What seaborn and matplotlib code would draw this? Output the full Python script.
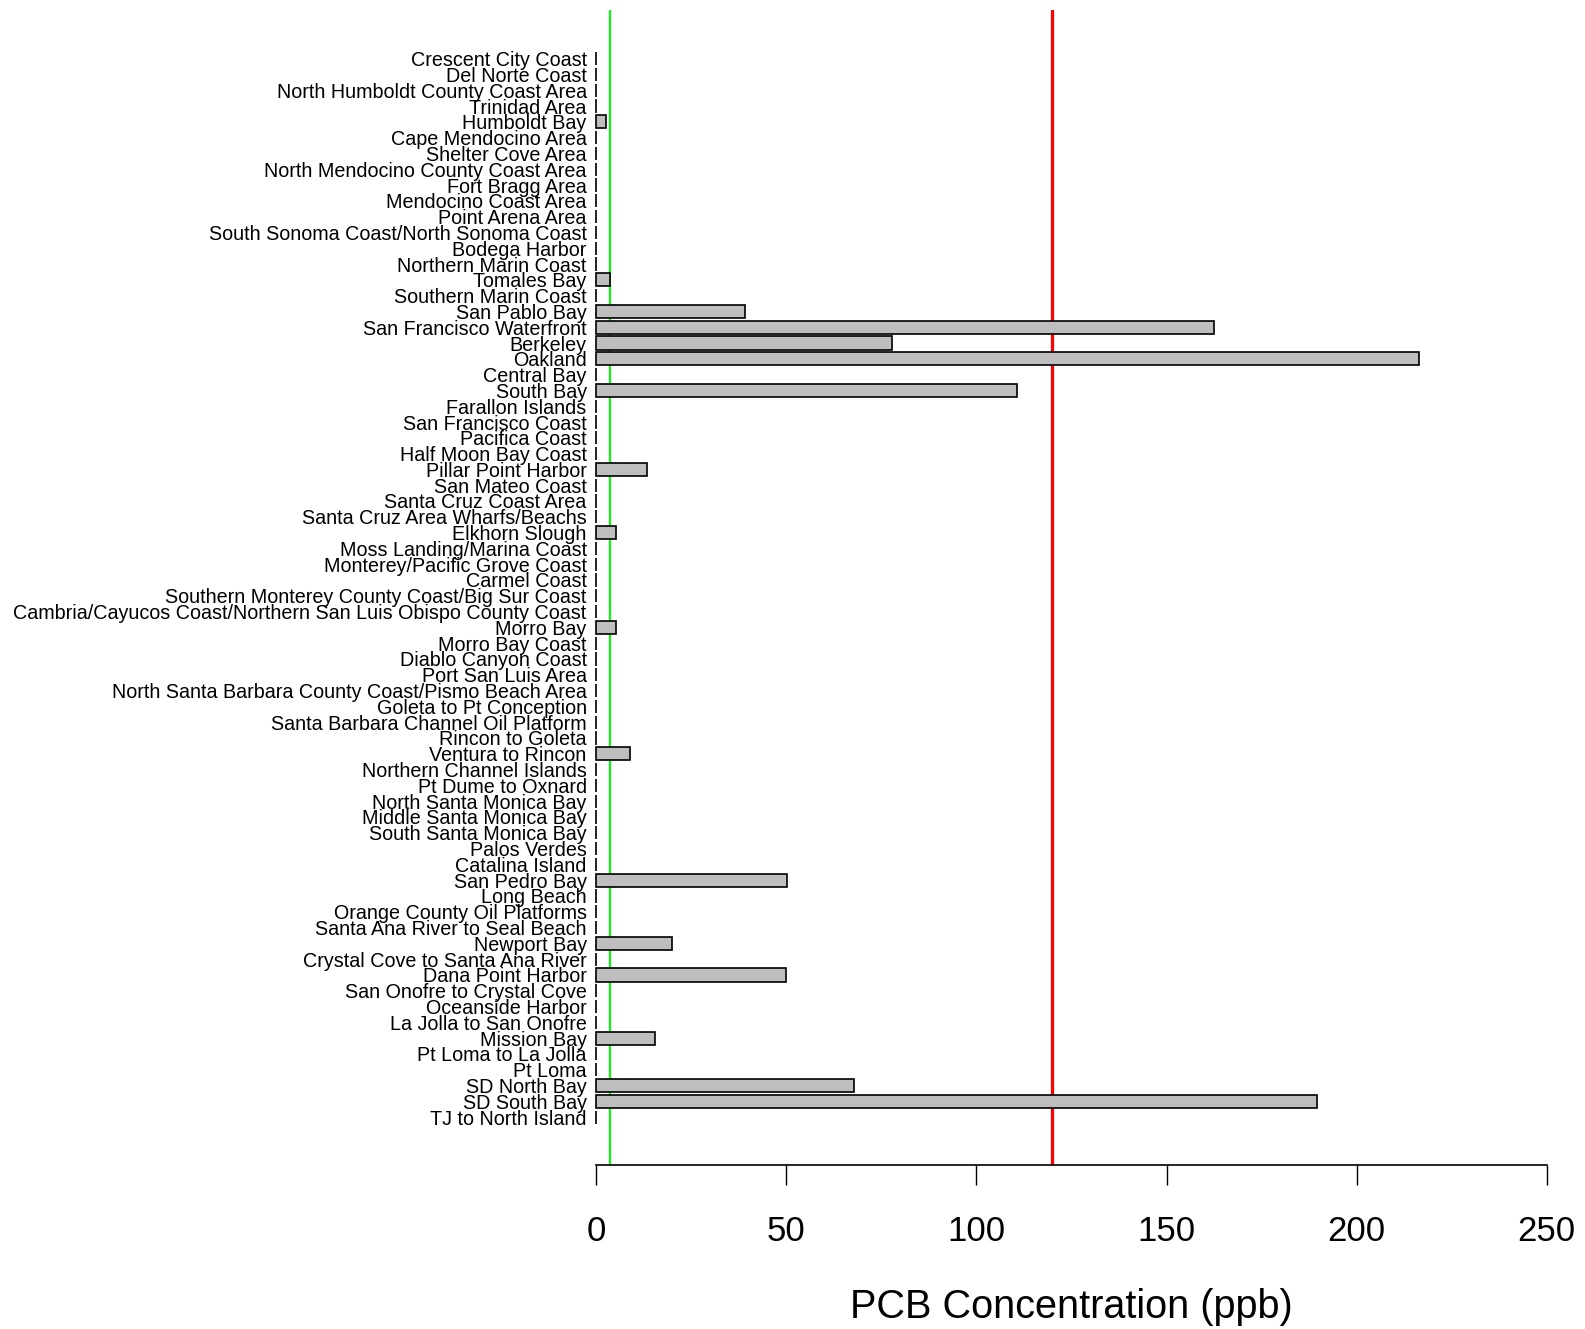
import matplotlib
matplotlib.use("Agg")
import matplotlib.pyplot as plt
import seaborn as sns
import pandas as pd

# Monitoring areas, north to south along the California coast
sites = [
    "Crescent City Coast", "Del Norte Coast", "North Humboldt County Coast Area",
    "Trinidad Area", "Humboldt Bay", "Cape Mendocino Area", "Shelter Cove Area",
    "North Mendocino County Coast Area", "Fort Bragg Area", "Mendocino Coast Area",
    "Point Arena Area", "South Sonoma Coast/North Sonoma Coast", "Bodega Harbor",
    "Northern Marin Coast", "Tomales Bay", "Southern Marin Coast", "San Pablo Bay",
    "San Francisco Waterfront", "Berkeley", "Oakland", "Central Bay", "South Bay",
    "Farallon Islands", "San Francisco Coast", "Pacifica Coast", "Half Moon Bay Coast",
    "Pillar Point Harbor", "San Mateo Coast", "Santa Cruz Coast Area",
    "Santa Cruz Area Wharfs/Beachs", "Elkhorn Slough", "Moss Landing/Marina Coast",
    "Monterey/Pacific Grove Coast", "Carmel Coast",
    "Southern Monterey County Coast/Big Sur Coast",
    "Cambria/Cayucos Coast/Northern San Luis Obispo County Coast", "Morro Bay",
    "Morro Bay Coast", "Diablo Canyon Coast", "Port San Luis Area",
    "North Santa Barbara County Coast/Pismo Beach Area", "Goleta to Pt Conception",
    "Santa Barbara Channel Oil Platform", "Rincon to Goleta", "Ventura to Rincon",
    "Northern Channel Islands", "Pt Dume to Oxnard", "North Santa Monica Bay",
    "Middle Santa Monica Bay", "South Santa Monica Bay", "Palos Verdes",
    "Catalina Island", "San Pedro Bay", "Long Beach", "Orange County Oil Platforms",
    "Santa Ana River to Seal Beach", "Newport Bay", "Crystal Cove to Santa Ana River",
    "Dana Point Harbor", "San Onofre to Crystal Cove", "Oceanside Harbor",
    "La Jolla to San Onofre", "Mission Bay", "Pt Loma to La Jolla", "Pt Loma",
    "SD North Bay", "SD South Bay", "TJ to North Island",
]

# PCB concentration (ppb) per area
pcb_ppb = [
    0, 0, 0, 0, 2.4, 0, 0, 0, 0, 0,
    0, 0, 0, 0, 3.5, 0, 39, 162.5, 77.7, 216.5,
    0, 110.7, 0, 0, 0, 0, 13.3, 0, 0, 0,
    5.1, 0, 0, 0, 0, 0, 5.1, 0, 0, 0,
    0, 0, 0, 0, 8.9, 0, 0, 0, 0, 0,
    0, 0, 50.1, 0, 0, 0, 19.8, 0, 49.8, 0,
    0, 0, 15.4, 0, 0, 67.8, 189.5, 0,
]

# Advisory thresholds (ppb)
fish_contaminant_goal = 3.6
no_consumption_level = 120

x_ticks = [0, 50, 100, 150, 200, 250]
x_label = "PCB Concentration (ppb)"

sns.set_style("white")
plt.rcParams["font.family"] = ["Liberation Sans", "DejaVu Sans"]

W, H = 1585, 1329
fig = plt.figure(figsize=(W / 100, H / 100), dpi=100)

left_px, right_px = 596.4, 1546.6
top_px, bottom_px = 10.0, 1164.5
ax = fig.add_axes([left_px / W, 1 - bottom_px / H,
                   (right_px - left_px) / W, (bottom_px - top_px) / H])

df = pd.DataFrame({"site": sites, "pcb": pcb_ppb})
sns.barplot(data=df, x="pcb", y="site", order=sites, orient="h",
            color="#BEBEBE", saturation=1, edgecolor="black", linewidth=1.2,
            width=1 / 1.2, ax=ax)
for p in ax.patches:
    p.set_clip_on(False)

ax.axvline(fish_contaminant_goal, color="#00FF00", lw=1.5, zorder=0.5)
ax.axvline(no_consumption_level, color="#FF0000", lw=2.3, zorder=0.5)

ax.set_xlim(0, 250)
ax.set_ylim(70.0, -3.08)

for side in ("top", "right", "left"):
    ax.spines[side].set_visible(False)
ax.spines["bottom"].set_bounds(0, 250)
ax.spines["bottom"].set_linewidth(1.2)
ax.spines["bottom"].set_color("black")

ax.set_xticks(x_ticks)
ax.set_xticklabels([str(t) for t in x_ticks])
ax.tick_params(axis="x", direction="out", length=14.5, width=1.0, color="black",
               pad=22, labelsize=25, labelcolor="black", bottom=True)
ax.tick_params(axis="y", length=0, pad=7, labelsize=14.2, labelcolor="black")

ax.set_ylabel("")
ax.set_xlabel(x_label, fontsize=28.5, color="black")
ax.xaxis.label.set_va("center")
ax.xaxis.set_label_coords(0.5, -(1307 - bottom_px) / (bottom_px - top_px))

fig.savefig("out.png", dpi=100, facecolor="white")
